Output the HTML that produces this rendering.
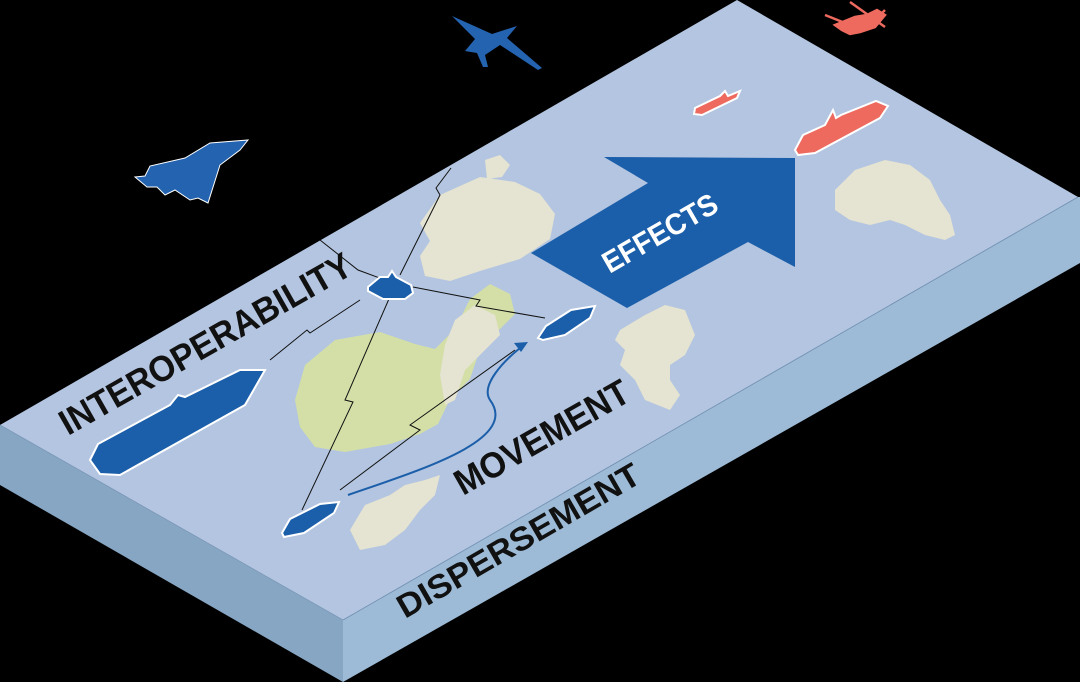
<!DOCTYPE html>
<html><head><meta charset="utf-8"><style>
html,body{margin:0;padding:0;background:#000;}
svg{display:block}
text{font-family:"Liberation Sans",sans-serif;font-weight:bold;}
</style></head><body>
<svg width="1080" height="682" viewBox="0 0 1080 682" xmlns="http://www.w3.org/2000/svg">
<rect width="1080" height="682" fill="#000"/>
<polygon points="0,425 343,620 343,682 0,485" fill="#87a6c3"/>
<polygon points="343,620 1078,197 1080,197 1080,263 343,682" fill="#9dbbd6"/>
<polygon points="0,425 737,0 1078,197 343,620" fill="#b3c5e0"/>
<line x1="343" y1="620" x2="1078" y2="197" stroke="#6f8fb0" stroke-width="0.8"/>
<line x1="0" y1="425" x2="343" y2="620" stroke="#7b98b8" stroke-width="0.8"/>

<!-- islands -->
<path d="M485,160 l15,-5 10,10 -8,12 -15,2z" fill="#e5e3d1"/>
<path d="M440,195 l40,-18 35,5 25,12 15,20 -5,25 -30,20 -40,12 -30,10 -25,-5 -5,-20 10,-15 -10,-18z" fill="#e5e3d1"/>
<path d="M295,400 l10,-35 30,-25 45,-8 35,12 20,5 20,-20 15,-30 20,-15 20,10 5,20 -20,20 -15,15 -10,30 -20,20 -12,25 -18,10 -30,10 -45,8 -30,-5 -15,-20z" fill="#d4dfa8"/>
<path d="M455,320 l20,-15 20,10 5,20 -20,20 -15,15 -10,30 -10,5 -5,-30 5,-30z" fill="#e5e3d1"/>
<path d="M620,330 l25,-15 20,-10 20,5 10,25 -10,20 -15,10 0,15 10,15 -10,15 -25,-10 -10,-20 -15,-15 5,-15 -10,-10z" fill="#e5e3d1"/>
<path d="M365,505 l25,-10 15,-10 20,-5 15,-5 -5,20 -15,15 -15,20 -20,15 -25,5 -10,-20z" fill="#e5e3d1"/>
<path d="M835,190 l20,-20 30,-10 25,5 20,15 10,20 10,15 5,20 -10,5 -20,-5 -20,-10 -15,-5 -20,5 -20,-5 -15,-10z" fill="#e5e3d1"/>

<g stroke="#111" stroke-width="1" fill="none">
<polyline points="320,240 358,270 385,280"/>
<polyline points="400,275 440,195 436,188 451,168"/>
<polyline points="413,287 480,300 476,306 545,318"/>
<polyline points="360,300 310,333 307,330 270,360"/>
<polyline points="395,285 345,400 353,402 302,510"/>
<polyline points="340,490 420,430 410,425 515,350"/>
</g>
<path d="M348,495 C420,470 520,440 490,400 C480,385 505,360 520,348" stroke="#1b5ea9" stroke-width="2" fill="none"/>
<polygon points="528,342 514,343 521,352" fill="#1b5ea9"/>

<polygon points="604,157 795,158 795,267 748,242 627,308 531,253 648,183" fill="#1b5ea9"/>
<text transform="translate(665,242) rotate(-30)" font-size="30" fill="#fff" text-anchor="middle" textLength="128" lengthAdjust="spacingAndGlyphs">EFFECTS</text>

<g fill="#1b5ea9" stroke="#fff" stroke-width="2">
<polygon points="90,460 98,444 170,405 178,395 185,397 240,370 265,370 245,405 120,475 100,474"/>
<path d="M368,287 l12,-10 8,0 4,-6 4,6 15,8 2,8 -8,6 -22,0 -15,-8z"/>
<path d="M538,338 l8,-12 25,-16 24,-4 -5,12 -25,17 -22,5z"/>
<path d="M282,533 l8,-14 30,-15 19,-2 -5,11 -30,20 -20,4z"/>
</g>
<g fill="#ee6a5f" stroke="#fff" stroke-width="2">
<path d="M695,108 l25,-12 5,-5 3,5 12,-5 -3,7 -35,17 -8,-1z"/>
<path d="M795,150 l8,-15 22,-10 8,-15 3,8 5,-3 35,-14 12,5 -8,12 -65,35 -17,2z"/>
</g>

<path d="M145,176 l5,-10 35,-8 25,-15 38,-3 -8,10 -20,15 -12,38 -10,-5 -8,2 -15,-10 -10,5 -8,-8 -10,0 -12,-10z" fill="#2463b0" stroke="#fff" stroke-width="1"/>
<path d="M452,16 l40,18 25,-8 -10,12 35,30 -4,2 -38,-25 -15,10 3,12 -5,0 -6,-14 -12,-2 10,-12z" fill="#2463b0"/>
<path d="M835,25 l20,-8 12,-2 10,-5 8,5 -10,12 -15,5 -10,2 -8,-4z M825,15 l25,10 M850,2 l35,25 M865,30 l20,-20" fill="#ee6a5f" stroke="#ee6a5f" stroke-width="2.5"/>

<text transform="translate(68,436) rotate(-29.6)" font-size="36" fill="#111" textLength="330" lengthAdjust="spacingAndGlyphs">INTEROPERABILITY</text>
<text transform="translate(463,496) rotate(-29.6)" font-size="36" fill="#111" textLength="195" lengthAdjust="spacingAndGlyphs">MOVEMENT</text>
<text transform="translate(405,619) rotate(-30)" font-size="33" fill="#111" textLength="275" lengthAdjust="spacingAndGlyphs">DISPERSEMENT</text>
</svg>
</body></html>
